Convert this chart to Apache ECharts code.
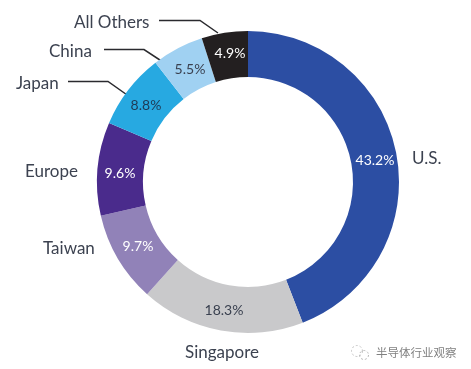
<!DOCTYPE html>
<html><head><meta charset="utf-8">
<style>html,body{margin:0;padding:0;background:#fff}#c{width:471px;height:369px}</style>
<script src="https://cdn.jsdelivr.net/npm/echarts@6/dist/echarts.min.js"></script>
</head><body><div id="c"></div>
<script>
const categories = ['U.S.','Singapore','Taiwan','Europe','Japan','China','All Others'];
const printedShares = [43.2,18.3,9.7,9.6,8.8,5.5,4.9];
const drawnArcShares = [44.1,17.55,9.75,10,8.1,5.55,4.95];
const sliceColors = ['#2c4ea3','#c9c9cb','#9182b8','#4a2b8c','#27a9e1','#a0d1f2','#231f20'];
const valueLabelColors = ['#fff','#3a4150','#fff','#fff','#1f3a55','#3a4150','#fff'];
const valueLabelAnchors = [[375,160],[224,310],[138,246],[120,173],[146,105],[190,69],[230,53]];
const nameLabelAnchors = [[412,159,'left'],[222,353,'center'],[43,249,'left'],[25,172,'left'],[16,84,'left'],[49,52,'left'],[74,23,'left']];
const leaders = [
  [[159,20.5],[200,20.5],[218,33]],
  [[104,49.5],[144,49.5],[166,64]],
  [[68,81.5],[108,81.5],[130,97]]
];
const watermark = '半导体行业观察';
const font = 'Lato, "Open Sans", sans-serif';
const chart = echarts.init(document.getElementById('c'), null, {renderer:'canvas'});
const center = [248,182];
const radius = [105,151];
chart.setOption({
  animation:false,
  backgroundColor:'#fff',
  series:[
    {type:'pie',center,radius,startAngle:90,clockwise:true,silent:true,
     data:categories.map((n,i)=>({name:n,value:drawnArcShares[i],
       itemStyle:{color:sliceColors[i]},
       label:{color:valueLabelColors[i],formatter:printedShares[i].toFixed(1)+'%'}})),
     label:{show:true,position:'inside',fontFamily:font,fontSize:14,overflow:'none'},
     labelLine:{show:false},
     labelLayout:p=>{
       const a=valueLabelAnchors[p.dataIndex];
       return {x:a[0],y:a[1],align:'center',verticalAlign:'middle'};
     }},
    {type:'pie',center,radius,startAngle:90,clockwise:true,silent:true,z:3,
     data:categories.map((n,i)=>({name:n,value:drawnArcShares[i]})),
     itemStyle:{color:'rgba(0,0,0,0)'},
     label:{show:true,position:'outside',formatter:'{b}',fontFamily:font,fontSize:17,color:'#3c4250',overflow:'none',width:120},
     labelLine:{show:false},
     labelLayout:p=>{
       const a=nameLabelAnchors[p.dataIndex];
       return {x:a[0],y:a[1],align:a[2],verticalAlign:'middle'};
     }}
  ],
  graphic:[
    ...leaders.map(pts=>({type:'polyline',shape:{points:pts},style:{stroke:'#2a2a2e',lineWidth:1.5,fill:null}})),
    {type:'text',x:376,y:353,style:{text:watermark,font:'11.5px "Noto Sans CJK SC"',fill:'#808080',verticalAlign:'middle'}},
    {type:'circle',shape:{cx:357,cy:351,r:5.5},style:{fill:null,stroke:'#c4c4c4',lineWidth:1,lineDash:[2,2]}},
    {type:'circle',shape:{cx:364,cy:355,r:4.5},style:{fill:null,stroke:'#b8b8b8',lineWidth:1,lineDash:[2,2]}}
  ]
});
</script></body></html>
